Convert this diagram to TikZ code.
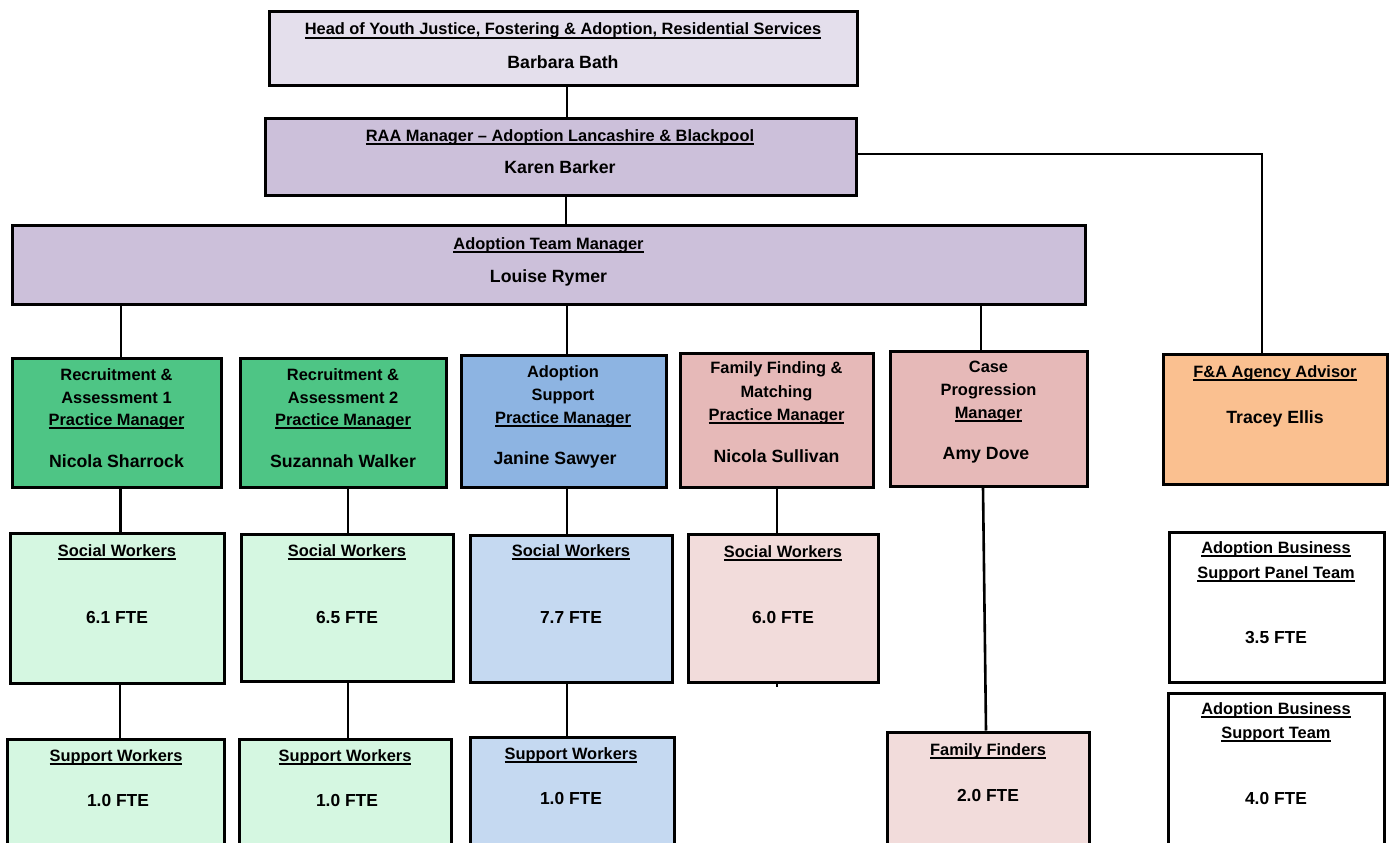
\documentclass[tikz,border=0pt]{standalone}
\usepackage{fontspec}
\setmainfont{Liberation Sans}
\newcommand\uln[1]{\leavevmode\setbox0\hbox{#1}\rlap{\rule[-3.6pt]{\wd0}{1.5pt}}\box0}
\definecolor{headc}{HTML}{E4DFEC}
\definecolor{lav}{HTML}{CCC0DA}
\definecolor{grn}{HTML}{4EC585}
\definecolor{lgrn}{HTML}{D5F7E1}
\definecolor{blu}{HTML}{8DB4E2}
\definecolor{lblu}{HTML}{C5D9F1}
\definecolor{pnk}{HTML}{E6B9B8}
\definecolor{lpnk}{HTML}{F2DCDB}
\definecolor{org}{HTML}{FAC090}
\tikzset{
  obx/.style={draw=black, line width=3pt, rectangle, inner sep=0pt},
  ttl/.style={anchor=base, inner sep=0pt, font=\bfseries\fontsize{16.4}{18}\selectfont},
  nme/.style={anchor=base, inner sep=0pt, font=\bfseries\fontsize{17.7}{20}\selectfont},
  fte/.style={anchor=base, inner sep=0pt, font=\bfseries\fontsize{17.4}{20}\selectfont},
  con/.style={draw=black, line width=2.6pt}
}
\newcommand\obox[6]{\node[obx, fill=#6, minimum width={#4-#2}, minimum height={#5-#3}] (#1) at ({(#2+#4)/2},{(#3+#5)/2}) {};}
\begin{document}
\begin{tikzpicture}[x=1pt,y=-1pt]
\useasboundingbox (0,0) rectangle (1389,843);
\clip (0,0) rectangle (1389,843);
\fill[white] (0,0) rectangle (1389,843);
% boxes
\obox{head}{269}{12}{857}{85}{headc}
\obox{raa}{265}{118}{856}{195}{lav}
\obox{atm}{12}{225}{1085}{304}{lav}
\obox{raone}{12}{358}{221}{487}{grn}
\obox{ratwo}{240}{358}{446}{487}{grn}
\obox{as}{461}{355}{666}{487}{blu}
\obox{ff}{680}{353}{873}{487}{pnk}
\obox{cp}{890}{351}{1087}{486}{pnk}
\obox{fa}{1163}{354}{1387}{484}{org}
\obox{swone}{10}{533}{224}{683}{lgrn}
\obox{swtwo}{241}{534}{453}{681}{lgrn}
\obox{swthree}{470}{535}{672}{682}{lblu}
\obox{swfour}{688}{534}{878}{682}{lpnk}
\obox{spone}{7}{739}{224}{880}{lgrn}
\obox{sptwo}{239}{739}{451}{880}{lgrn}
\obox{spthree}{470}{737}{674}{880}{lblu}
\obox{ffd}{887}{732}{1089}{880}{lpnk}
\obox{abspt}{1169}{532}{1384}{682}{white}
\obox{abst}{1168}{693}{1384}{880}{white}
% connectors
\draw[con] ([xshift=4pt]head.south) -- ([xshift=4pt]head.south |- raa.north);
\draw[con] ([xshift=5.5pt]raa.south) -- ([xshift=5.5pt]raa.south |- atm.north);
\draw[con] ([yshift=2.5pt]raa.east) -| ([xshift=-13pt]fa.north);
\draw[con] ([xshift=4.5pt]raone.north) -- ([xshift=4.5pt]raone.north |- atm.south);
\draw[con] ([xshift=3.5pt]as.north) -- ([xshift=3.5pt]as.north |- atm.south);
\draw[con] ([xshift=-7.5pt]cp.north) -- ([xshift=-7.5pt]cp.north |- atm.south);
\draw[con] ([xshift=4pt]raone.south) -- ([xshift=4pt]raone.south |- swone.north);
\draw[con] ([xshift=5pt]ratwo.south) -- ([xshift=5pt]ratwo.south |- swtwo.north);
\draw[con] ([xshift=3.5pt]as.south) -- ([xshift=3.5pt]as.south |- swthree.north);
\draw[con] ([xshift=0.5pt]ff.south) -- ([xshift=0.5pt]ff.south |- swfour.north);
\draw[con] ([xshift=-6pt]swfour.south) -- ++(0,3);
\draw[con] ([xshift=3pt]swone.south) -- ([xshift=3pt]swone.south |- spone.north);
\draw[con] ([xshift=1pt]swtwo.south) -- ([xshift=1pt]swtwo.south |- sptwo.north);
\draw[con] ([xshift=-4pt]swthree.south) -- ([xshift=-4pt]swthree.south |- spthree.north);
\draw[con] ([xshift=-5.5pt]cp.south) -- ([xshift=-2pt]ffd.north);
% texts
\node[ttl] at (563,35) {\uln{Head of Youth Justice, Fostering \& Adoption, Residential Services}};
\node[nme] at (563,68) {Barbara Bath};
\node[ttl] at (560,141) {\uln{RAA Manager – Adoption Lancashire \& Blackpool}};
\node[nme] at (560,173) {Karen Barker};
\node[ttl] at (548.5,249) {\uln{Adoption Team Manager}};
\node[nme] at (548.5,282) {Louise Rymer};
% row managers
\node[ttl] at (116.5,380) {Recruitment \&};
\node[ttl] at (116.5,403) {Assessment 1};
\node[ttl] at (116.5,425) {\uln{Practice Manager}};
\node[nme] at (116.5,467) {Nicola Sharrock};
\node[ttl] at (343,380) {Recruitment \&};
\node[ttl] at (343,403) {Assessment 2};
\node[ttl] at (343,425) {\uln{Practice Manager}};
\node[nme] at (343,467) {Suzannah Walker};
\node[ttl] at (563,377) {Adoption};
\node[ttl] at (563,400) {Support};
\node[ttl] at (563,423) {\uln{Practice Manager}};
\node[nme] at (555,464) {Janine Sawyer};
\node[ttl] at (776.5,373) {Family Finding \&};
\node[ttl] at (776.5,397) {Matching};
\node[ttl] at (776.5,420) {\uln{Practice Manager}};
\node[nme] at (776.5,462) {Nicola Sullivan};
\node[ttl] at (988.5,372) {Case};
\node[ttl] at (988.5,395) {Progression};
\node[ttl] at (988.5,418) {\uln{Manager}};
\node[nme] at (986,459) {Amy Dove};
\node[ttl] at (1275,377) {\uln{F\&A Agency Advisor}};
\node[nme] at (1275,423) {Tracey Ellis};
% social workers
\node[ttl] at (117,556) {\uln{Social Workers}};
\node[fte] at (117,623) {6.1 FTE};
\node[ttl] at (347,556) {\uln{Social Workers}};
\node[fte] at (347,623) {6.5 FTE};
\node[ttl] at (571,556) {\uln{Social Workers}};
\node[fte] at (571,623) {7.7 FTE};
\node[ttl] at (783,557) {\uln{Social Workers}};
\node[fte] at (783,623) {6.0 FTE};
% support workers
\node[ttl] at (116,761) {\uln{Support Workers}};
\node[fte] at (118,806) {1.0 FTE};
\node[ttl] at (345,761) {\uln{Support Workers}};
\node[fte] at (347,806) {1.0 FTE};
\node[ttl] at (571,759) {\uln{Support Workers}};
\node[fte] at (571,804) {1.0 FTE};
\node[ttl] at (988,755) {\uln{Family Finders}};
\node[fte] at (988,801) {2.0 FTE};
% business support
\node[ttl] at (1276,553) {\uln{Adoption Business}};
\node[ttl] at (1276,578) {\uln{Support Panel Team}};
\node[fte] at (1276,643) {3.5 FTE};
\node[ttl] at (1276,714) {\uln{Adoption Business}};
\node[ttl] at (1276,738) {\uln{Support Team}};
\node[fte] at (1276,804) {4.0 FTE};
\end{tikzpicture}
\end{document}
